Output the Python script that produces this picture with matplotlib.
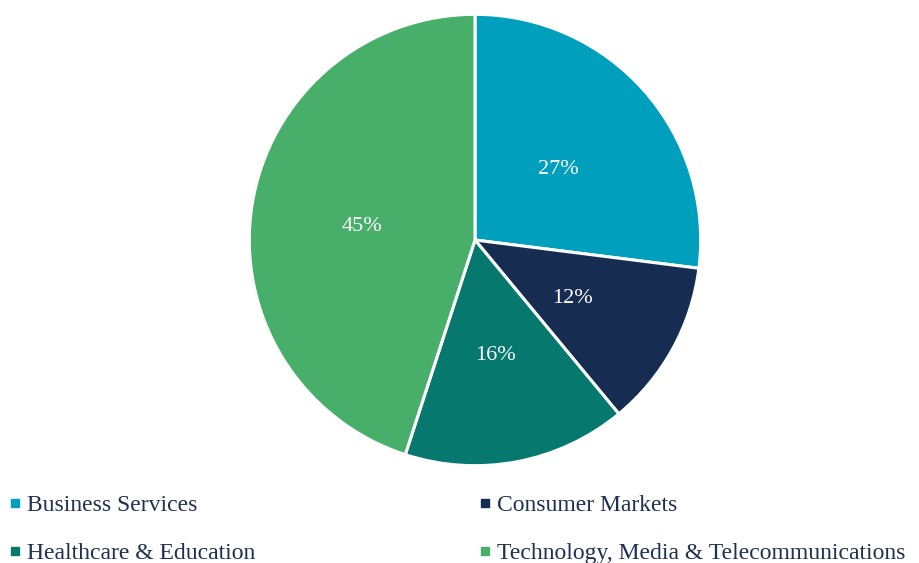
import matplotlib.pyplot as plt
from matplotlib.lines import Line2D

plt.rcParams['font.family'] = ['Liberation Serif', 'DejaVu Serif']

sectors = ['Business Services', 'Consumer Markets',
           'Healthcare & Education', 'Technology, Media & Telecommunications']
shares = [27, 12, 16, 45]
colours = ['#009FBD', '#172C51', '#06786E', '#48AF6A']

fig = plt.figure(figsize=(9.19, 5.63), dpi=100)
ax = fig.add_axes([250 / 919, 98 / 563, 450 / 919, 450 / 563])

wedges, texts, autotexts = ax.pie(
    shares, colors=colours, startangle=90, counterclock=False,
    autopct='%d%%', pctdistance=0.5,
    wedgeprops=dict(edgecolor='white', linewidth=2.2),
    textprops=dict(color='white', fontsize=16),
)
# labels sit a touch lower in the original
for t in autotexts:
    x, y = t.get_position()
    t.set_position((x - 0.005, y - 0.02))
ax.set_xlim(-0.997, 0.997)
ax.set_ylim(-0.997, 0.997)
ax.set_aspect('equal')

handles = [Line2D([], [], marker='s', linestyle='none', markersize=6,
                  markerfacecolor=c, markeredgecolor=c) for c in colours]
order = [0, 2, 1, 3]
fig.legend([handles[i] for i in order], [sectors[i] for i in order],
           ncol=2, loc='upper left',
           bbox_to_anchor=(-0.002, 0.1386), frameon=False, fontsize=17,
           labelcolor='#1F3050', handlelength=0.6, handletextpad=0.22,
           columnspacing=9.42, labelspacing=1.12, borderaxespad=0)

fig.savefig('out.png', dpi=100)
